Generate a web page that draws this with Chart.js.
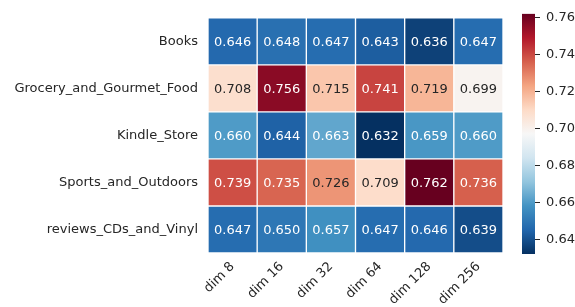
<!DOCTYPE html>
<html>
<head>
<meta charset="utf-8">
<script src="https://cdn.jsdelivr.net/npm/chart.js@4/dist/chart.umd.min.js"></script>
<style>
  html, body { margin: 0; padding: 0; background: #fff; }
  #wrap { position: relative; width: 575px; height: 307px; }
  #wrap canvas { position: absolute; left: 0; top: 0; }
</style>
</head>
<body>
<div id="wrap">
  <canvas id="heat" width="575" height="307"></canvas>
  <canvas id="cbar" width="575" height="307"></canvas>
</div>
<script>
const columns = ['dim 8', 'dim 16', 'dim 32', 'dim 64', 'dim 128', 'dim 256'];
const rows = ['Books', 'Grocery_and_Gourmet_Food', 'Kindle_Store', 'Sports_and_Outdoors', 'reviews_CDs_and_Vinyl'];

const books = [0.646, 0.648, 0.647, 0.643, 0.636, 0.647];
const grocery = [0.708, 0.756, 0.715, 0.741, 0.719, 0.699];
const kindle = [0.660, 0.644, 0.663, 0.632, 0.659, 0.660];
const sports = [0.739, 0.735, 0.726, 0.709, 0.762, 0.736];
const cds = [0.647, 0.650, 0.657, 0.647, 0.646, 0.639];
const values = [books, grocery, kindle, sports, cds];

const cbarTicks = [0.64, 0.66, 0.68, 0.70, 0.72, 0.74, 0.76];

// RdBu_r anchors (low -> high)
const rdbuR = ['#053061', '#2166ac', '#4393c3', '#92c5de', '#d1e5f0', '#f7f7f7',
               '#fddbc7', '#f4a582', '#d6604d', '#b2182b', '#67001f'];

const all = values.flat();
const vmin = Math.min(...all);
const vmax = Math.max(...all);
const font = 'DejaVu Sans';
const dark = '#262626';

function hexRgb(h) {
    return [1, 3, 5].map(i => parseInt(h.slice(i, i + 2), 16));
}

function colorAt(v) {
    let t = (v - vmin) / (vmax - vmin);
    t = Math.max(0, Math.min(1, t));
    const pos = t * (rdbuR.length - 1);
    const i = Math.min(Math.floor(pos), rdbuR.length - 2);
    const f = pos - i;
    const a = hexRgb(rdbuR[i]);
    const b = hexRgb(rdbuR[i + 1]);
    return a.map((c, k) => Math.round(c + (b[k] - c) * f));
}

function luminance(rgb) {
    const lin = rgb.map(c => {
        c = c / 255;
        return c <= 0.03928 ? c / 12.92 : Math.pow((c + 0.055) / 1.055, 2.4);
    });
    return 0.2126 * lin[0] + 0.7152 * lin[1] + 0.0722 * lin[2];
}

const rgbStr = c => `rgb(${c[0]},${c[1]},${c[2]})`;

// each row is one dataset of floating bars spanning [r, r+1] on the y scale
const datasets = rows.map((name, r) => ({
    label: name,
    data: columns.map(() => [r, r + 1]),
    backgroundColor: values[r].map(v => rgbStr(colorAt(v))),
    borderColor: '#ffffff',
    borderWidth: 1,
    borderSkipped: false,
    grouped: false,
    barPercentage: 1,
    categoryPercentage: 1
}));

const annotate = {
    id: 'annotate',
    afterDatasetsDraw(chart) {
        const ctx = chart.ctx;
        ctx.save();
        ctx.font = `13px "${font}"`;
        ctx.textAlign = 'center';
        ctx.textBaseline = 'middle';
        rows.forEach((name, r) => {
            const meta = chart.getDatasetMeta(r);
            meta.data.forEach((bar, c) => {
                const v = values[r][c];
                const cy = (bar.y + bar.base) / 2;
                ctx.fillStyle = luminance(colorAt(v)) > 0.408 ? dark : '#ffffff';
                ctx.fillText(v.toFixed(3), bar.x, cy + 1);
            });
        });
        ctx.restore();
    }
};

new Chart(document.getElementById('heat'), {
    type: 'bar',
    data: { labels: columns, datasets },
    options: {
        responsive: false,
        animation: false,
        layout: { padding: { top: 13, right: 72, left: 0, bottom: 0 } },
        plugins: { legend: { display: false }, tooltip: { enabled: false } },
        scales: {
            x: {
                grid: { display: false, drawTicks: false },
                border: { display: false },
                ticks: {
                    color: dark,
                    font: { family: font, size: 13 },
                    minRotation: 45,
                    maxRotation: 45,
                    padding: 6
                },
                afterFit(scale) { scale.height = 54; }
            },
            y: {
                min: 0,
                max: rows.length,
                reverse: true,
                grid: { display: false, drawTicks: false },
                border: { display: false },
                afterBuildTicks(scale) {
                    scale.ticks = rows.map((n, i) => ({ value: i + 0.5 }));
                },
                ticks: {
                    color: dark,
                    font: { family: font, size: 13 },
                    padding: 10,
                    callback: (v) => rows[Math.floor(v)]
                },
                afterFit(scale) { scale.width = 208; }
            }
        }
    },
    plugins: [annotate]
});

new Chart(document.getElementById('cbar'), {
    type: 'bar',
    data: {
        labels: [''],
        datasets: [{
            data: [[vmin, vmax]],
            borderWidth: 0,
            barPercentage: 1,
            categoryPercentage: 1,
            backgroundColor(context) {
                const area = context.chart.chartArea;
                if (!area) return rdbuR[5];
                const g = context.chart.ctx.createLinearGradient(0, area.bottom, 0, area.top);
                rdbuR.forEach((c, i) => g.addColorStop(i / (rdbuR.length - 1), c));
                return g;
            }
        }]
    },
    options: {
        responsive: false,
        animation: false,
        layout: { padding: { top: 12, left: 522, right: 0, bottom: 53 } },
        plugins: { legend: { display: false }, tooltip: { enabled: false } },
        scales: {
            x: { display: false },
            y: {
                position: 'right',
                min: vmin,
                max: vmax,
                border: { display: false },
                grid: {
                    drawOnChartArea: false,
                    drawTicks: true,
                    tickLength: 5,
                    tickWidth: 1,
                    tickColor: dark
                },
                afterBuildTicks(scale) {
                    scale.ticks = cbarTicks.map(v => ({ value: v }));
                },
                ticks: {
                    color: dark,
                    font: { family: font, size: 13 },
                    padding: 6,
                    callback: (v) => Number(v).toFixed(2)
                },
                afterFit(scale) { scale.width = 40; }
            }
        }
    }
});
</script>
</body>
</html>
